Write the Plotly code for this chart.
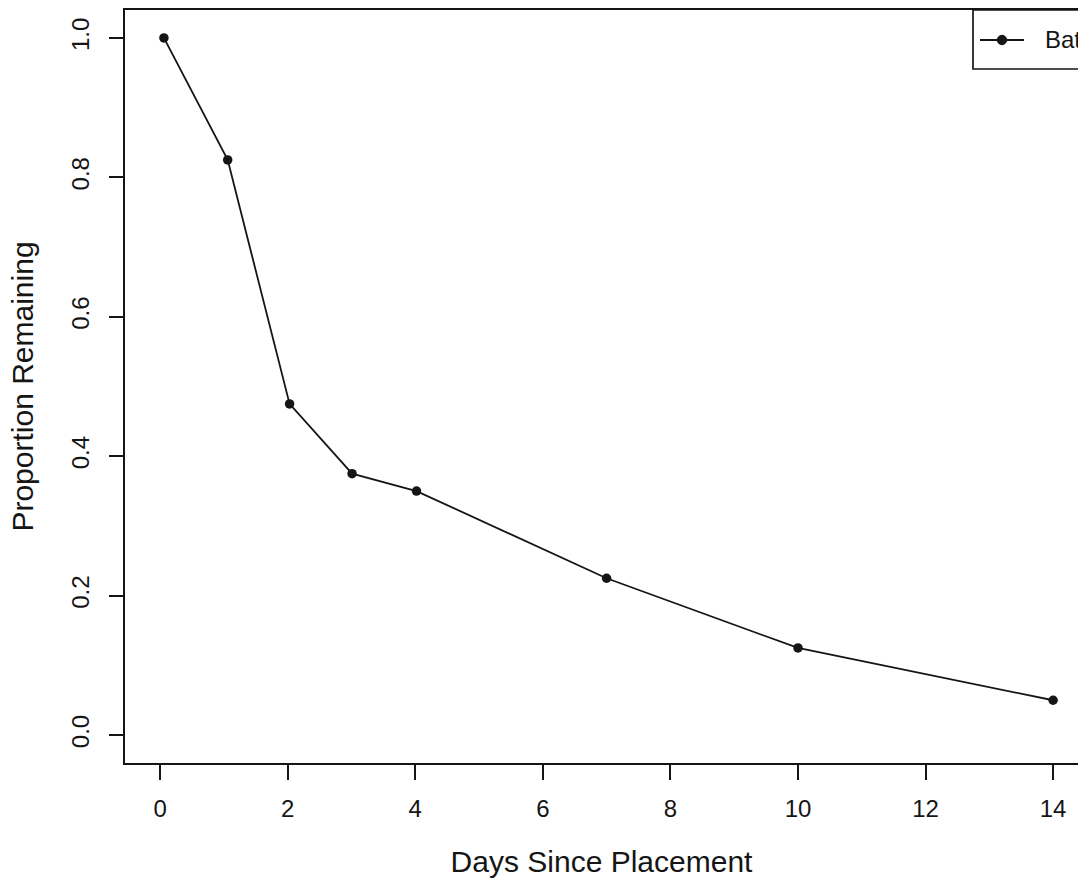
import plotly.graph_objects as go

# Proportion of bait remaining over time
days = [0.06, 1.06, 2.03, 3.01, 4.02, 7.0, 10.0, 14.0]
remaining = [1.0, 0.825, 0.475, 0.375, 0.35, 0.225, 0.125, 0.05]
series_name = "Bats"

x_ticks = [0, 2, 4, 6, 8, 10, 12, 14]
y_ticks = [0.0, 0.2, 0.4, 0.6, 0.8, 1.0]

INK = "#151515"
FONT = "Liberation Sans, Arial, sans-serif"

fig = go.Figure()
fig.add_trace(go.Scatter(
    x=days, y=remaining, mode="lines+markers", name=series_name,
    line=dict(color=INK, width=1.8),
    marker=dict(color=INK, size=9.5, symbol="circle"),
    showlegend=False,
))

# Legend box in the top-right corner (runs past the page edge)
W, H = 953.0, 753.0
def px(x):
    return (x - 125) / W
def py(y):
    return (763 - y) / H

fig.add_shape(type="rect", xref="paper", yref="paper",
              x0=px(973), x1=px(1110), y0=py(69), y1=py(10),
              line=dict(color=INK, width=1.7), fillcolor="white", layer="above")
fig.add_shape(type="line", xref="paper", yref="paper",
              x0=px(980), x1=px(1024), y0=py(40), y1=py(40),
              line=dict(color=INK, width=1.8), layer="above")
fig.add_shape(type="circle", xref="paper", yref="paper",
              x0=px(1002 - 4.75), x1=px(1002 + 4.75), y0=py(40 + 4.75), y1=py(40 - 4.75),
              line=dict(color=INK, width=1), fillcolor=INK, layer="above")
fig.add_annotation(xref="paper", yref="paper", x=px(1043), y=py(40),
                   xanchor="left", yanchor="middle", showarrow=False,
                   text=series_name, font=dict(family=FONT, size=24, color=INK))

fig.update_layout(
    width=1078, height=878,
    margin=dict(l=125, r=0, t=10, b=115, autoexpand=False),
    paper_bgcolor="white", plot_bgcolor="white",
    font=dict(family=FONT, size=24, color=INK),
    xaxis=dict(
        range=[-0.55, 14.39], tickvals=x_ticks, ticktext=[str(v) for v in x_ticks],
        showgrid=False, zeroline=False,
        showline=True, linecolor=INK, linewidth=1.8, mirror=True,
        ticks="outside", ticklen=15, tickwidth=1.8, tickcolor=INK,
        tickfont=dict(size=24), ticklabelstandoff=8,
        title=dict(text="Days Since Placement", font=dict(size=30), standoff=35),
    ),
    yaxis=dict(
        range=[-0.04, 1.04], tickvals=y_ticks, ticktext=[f"{v:.1f}" for v in y_ticks],
        showgrid=False, zeroline=False,
        showline=True, linecolor=INK, linewidth=1.8,
        ticks="outside", ticklen=14, tickwidth=1.8, tickcolor=INK,
        tickangle=-90, tickfont=dict(size=24), ticklabelstandoff=11,
        title=dict(text="Proportion Remaining", font=dict(size=30), standoff=24),
    ),
)

fig.write_html("out.html")
